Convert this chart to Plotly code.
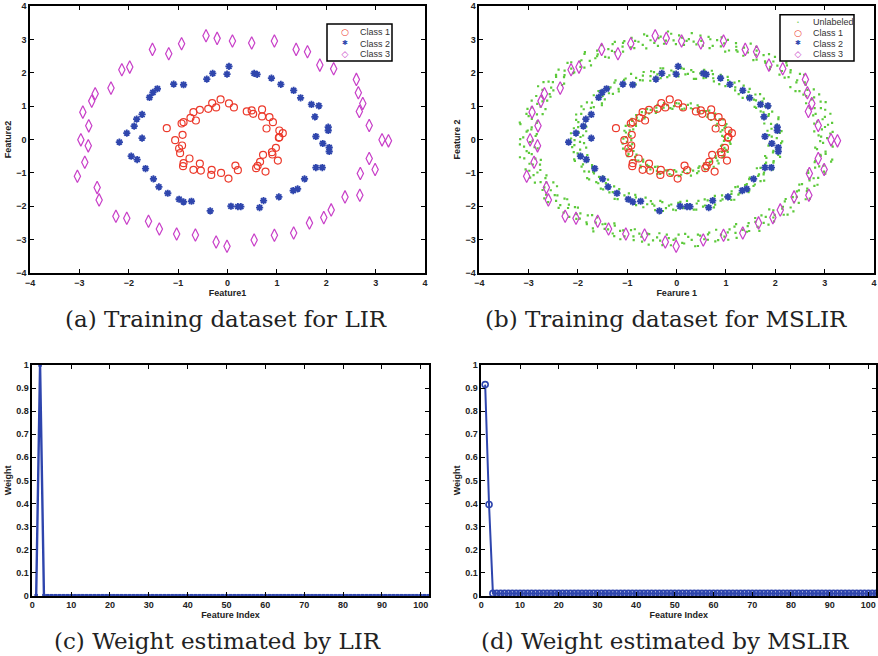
import numpy as np
import plotly.graph_objects as go

# ---------------- data ----------------
class1_x = [-0.14, -0.31, -0.23, -0.39, -0.56, -0.69, -0.64, -0.75, -0.89, -0.93, -1.23, -0.91, -1.06, -0.92, -0.98,
            -0.96, -0.77, -0.89, -0.90, -0.56, -0.69, -0.54, -0.32, -0.33, -0.13, 0.02, 0.16, 0.21, 0.58, 0.61,
            0.66, 0.77, 0.72, 0.90, 0.91, 0.98, 1.02, 1.04, 1.05, 1.12, 1.05, 0.79, 0.92, 0.85, 0.70, 0.70,
            0.52, 0.49, 0.39, 0.13, 0.03]
class1_y = [1.20, 1.09, 0.96, 0.92, 0.89, 0.82, 0.57, 0.65, 0.52, 0.48, 0.34, 0.14, -0.02, -0.18, -0.27,
            -0.41, -0.57, -0.71, -0.80, -0.72, -0.91, -0.93, -0.91, -1.06, -1.00, -1.17, -0.78, -0.92, -0.86, -0.79,
            -0.67, -0.96, -0.46, -0.38, -0.45, -0.25, -0.63, 0.05, 0.07, 0.19, 0.27, 0.33, 0.52, 0.67, 0.69, 0.90,
            0.77, 0.87, 0.84, 0.96, 1.08]

class2_x = [0.03, -0.30, -0.01, -0.42, 0.54, 0.60, 0.89, 1.08, 1.34, 1.48, 1.70, 1.85, 1.77, 2.04, 2.04, 1.79,
            1.93, 2.06, 2.06, 1.79, 1.92, 1.56, 1.42, 1.33, 1.04, 0.73, 0.65, 0.27, 0.21, 0.07, -0.35, -0.73,
            -0.89, -0.98, -1.21, -1.39, -1.50, -1.66, -1.83, -1.95, -2.19, -2.04, -1.73, -1.89, -1.84, -1.73,
            -1.58, -1.51, -1.42, -1.09, -0.89]
class2_y = [2.19, 1.98, 1.96, 1.81, 1.98, 1.95, 1.84, 1.65, 1.47, 1.25, 1.05, 1.01, 0.68, 0.37, 0.27, 0.09,
            -0.12, -0.24, -0.36, -0.84, -0.84, -1.18, -1.48, -1.53, -1.72, -1.83, -2.04, -2.01, -2.01, -2.00, -2.14, -1.85,
            -1.87, -1.79, -1.61, -1.42, -1.18, -0.87, -0.60, -0.50, -0.08, 0.19, 0.04, 0.40, 0.61, 0.75,
            1.26, 1.41, 1.52, 1.66, 1.64]

class3_x = [-0.435, -0.21, 0.10, 0.49, 0.95, -0.93, -1.52, -1.19, -1.98, -2.14, -2.36, -2.68, -2.75, -2.93, -2.81,
            -2.97, -2.82, -2.89, -3.04, -2.64, -2.60, -2.26, -2.04, -1.60, -1.38, -1.03, -0.65, -0.23, -0.01, 0.54,
            0.95, 1.34, 1.66, 1.95, 2.10, 2.38, 2.68, 2.99, 2.69, 2.87, 3.13, 3.26, 2.87, 2.67, 2.74, 2.65, 2.61,
            2.15, 1.87, 1.62, 1.39]
class3_y = [3.11, 3.03, 2.95, 2.89, 2.95, 2.87, 2.70, 2.57, 2.17, 2.09, 1.54, 1.37, 1.15, 0.82, 0.41,
            -0.01, -0.19, -0.68, -1.10, -1.44, -1.81, -2.30, -2.36, -2.45, -2.68, -2.83, -2.86, -3.07, -3.20, -3.01,
            -2.87, -2.80, -2.50, -2.34, -2.11, -1.72, -1.67, -0.90, -1.02, -0.57, -0.01, -0.04, 0.42, 0.84, 1.08, 1.40, 1.80,
            2.12, 2.23, 2.63, 2.70]

# unlabeled points read as (angle in degrees, radius) around the three rings
unl_outer = [(0.8,3.05),(2.5,2.88),(4.1,3.17),(5.9,2.96),(8.2,3.10),(9.7,2.83),(11.6,3.02),(13.9,3.21),(15.3,2.92),(17.8,3.07),
(19.4,2.86),(21.2,3.13),(23.7,2.99),(25.1,3.19),(27.6,2.90),(29.3,3.04),(31.0,2.81),(33.4,3.11),(35.2,2.97),(36.9,3.23),
(39.5,2.94),(41.1,3.06),(43.0,2.85),(44.8,3.15),(47.3,3.01),(48.9,2.89),(51.2,3.18),(52.6,2.95),(55.1,3.08),(56.8,2.84),
(58.7,3.12),(61.0,2.98),(62.4,3.24),(64.9,2.91),(66.5,3.03),(68.3,2.87),(70.8,3.16),(72.2,2.93),(74.6,3.09),(76.3,2.82),
(78.1,3.14),(80.4,3.00),(82.0,2.88),(84.5,3.20),(86.1,2.96),(87.9,3.05),(90.3,2.86),(92.0,3.17),(94.2,2.97),(96.0,3.10),
(97.7,2.83),(100.1,3.02),(101.8,3.22),(103.6,2.92),(105.9,3.07),(107.4,2.87),(109.8,3.13),(111.5,2.99),(113.2,3.18),(115.6,2.90),
(117.1,3.04),(119.3,2.81),(121.2,3.11),(122.9,2.97),(125.4,3.21),(126.8,2.94),(129.1,3.06),(131.0,2.85),(132.7,3.15),(135.2,3.01),
(136.6,2.89),(138.8,3.18),(140.7,2.95),(142.5,3.08),(144.9,2.84),(146.3,3.12),(148.6,2.98),(150.4,3.23),(152.2,2.91),(154.7,3.03),
(156.1,2.87),(158.4,3.16),(160.3,2.93),(161.9,3.09),(164.4,2.82),(165.8,3.14),(168.1,3.00),(170.0,2.88),(171.7,3.20),(174.2,2.96),
(175.6,3.05),(177.9,2.86),(179.8,3.17),(181.5,2.97),(183.9,3.10),(185.4,2.83),(187.6,3.02),(189.5,3.22),(191.3,2.92),(193.7,3.07),
(195.2,2.87),(197.4,3.13),(199.3,2.99),(201.0,3.18),(203.5,2.90),(204.9,3.04),(207.2,2.81),(209.1,3.11),(210.8,2.97),(213.3,3.21),
(214.7,2.94),(217.0,3.06),(218.9,2.85),(220.6,3.15),(223.0,3.01),(224.5,2.89),(226.8,3.18),(228.6,2.95),(230.4,3.08),(232.9,2.84),
(234.3,3.12),(236.6,2.98),(238.5,3.23),(240.2,2.91),(242.7,3.03),(244.1,2.87),(246.4,3.16),(248.3,2.93),(250.0,3.09),(252.5,2.82),
(253.9,3.14),(256.2,3.00),(258.1,2.88),(259.8,3.20),(262.3,2.96),(263.7,3.05),(266.0,2.86),(267.9,3.17),(269.6,2.97),(272.1,3.10),
(273.5,2.83),(275.8,3.02),(277.7,3.22),(279.4,2.92),(281.9,3.07),(283.3,2.87),(285.6,3.13),(287.5,2.99),(289.2,3.18),(291.7,2.90),
(293.1,3.04),(295.4,2.81),(297.3,3.11),(299.0,2.97),(301.5,3.21),(302.9,2.94),(305.2,3.06),(307.1,2.85),(308.8,3.15),(311.3,3.01),
(312.7,2.89),(315.0,3.18),(316.9,2.95),(318.6,3.08),(321.1,2.84),(322.5,3.12),(324.8,2.98),(326.7,3.23),(328.4,2.91),(330.9,3.03),
(332.3,2.87),(334.6,3.16),(336.5,2.93),(338.2,3.09),(340.7,2.82),(342.1,3.14),(344.4,3.00),(346.3,2.88),(348.0,3.20),(350.5,2.96),
(351.9,3.05),(354.2,2.86),(356.1,3.17),(358.0,2.97),
(1.7,2.93),(3.3,3.12),(5.0,2.80),(7.1,3.03),(9.0,3.19),(10.6,2.90),(12.7,3.08),(14.6,2.86),(16.5,3.14),(18.6,2.95),
(20.3,3.22),(22.5,2.84),(24.4,3.06),(26.3,2.93),(28.4,3.16),(30.2,2.88),(32.1,3.09),(34.3,2.79),(36.0,3.02),(38.2,3.18),
(40.3,2.87),(42.0,3.11),(43.9,2.96),(46.0,3.20),(48.1,2.83),(50.0,3.05),(51.9,2.92),(53.8,3.17),(55.9,2.89),(57.7,3.00),
(59.8,3.21),(61.7,2.85),(63.6,3.07),(65.7,2.94),(67.4,3.13),(69.5,2.81),(71.5,3.04),(73.4,3.19),(75.4,2.90),(77.2,3.08),
(79.3,2.86),(81.2,3.15),(83.3,2.95),(85.3,3.02),(87.0,2.84),(89.1,3.12),(91.2,2.97),(93.1,3.24),(95.1,2.88),(96.9,3.06),
(98.9,2.93),(100.9,3.16),(102.7,2.80),(104.8,3.03),(106.7,3.18),(108.6,2.91),(110.6,3.09),(112.4,2.85),(114.4,3.14),(116.3,2.96),
(118.2,3.21),(120.3,2.87),(122.1,3.01),(124.1,2.94),(126.1,3.17),(128.0,2.82),(130.0,3.05),(131.9,2.92),(133.9,3.19),(135.9,2.89),
(137.7,3.07),(139.7,2.98),(141.6,3.12),(143.7,2.83),(145.6,3.04),(147.5,3.20),(149.5,2.90),(151.3,3.10),(153.4,2.86),(155.4,3.13),
(157.2,2.95),(159.3,3.02),(161.1,2.81),(163.1,3.16),(165.1,2.93),(166.9,3.08),(169.0,2.87),(170.9,3.22),(172.9,2.96),(174.9,3.03),
(176.7,2.84),(178.8,3.11),(180.7,2.92),(182.6,3.18),(184.6,2.89),(186.5,3.06),(188.5,2.97),(190.4,3.14),(192.5,2.82),(194.4,3.01),
(196.3,3.19),(198.3,2.91),(200.2,3.09),(202.2,2.85),(204.2,3.15),(206.0,2.94),(208.1,3.04),(210.0,2.80),(212.0,3.12),(214.0,2.98),
(215.8,3.21),(217.9,2.88),(219.8,3.07),(221.8,2.93),(223.7,3.17),(225.6,2.86),(227.7,3.02),(229.5,3.13),(231.6,2.90),(233.6,3.08),
(235.4,2.84),(237.5,3.16),(239.4,2.95),(241.4,3.05),(243.3,2.81),(245.3,3.10),(247.3,2.97),(249.1,3.20),(251.2,2.87),(253.2,3.03),
(255.0,2.92),(257.1,3.14),(258.9,2.89),(261.0,3.06),(262.9,2.83),(264.8,3.18),(266.9,2.96),(268.8,3.01),(270.8,2.85),(272.8,3.12),
(274.6,2.93),(276.7,3.22),(278.6,2.88),(280.6,3.04),(282.6,2.91),(284.4,3.15),(286.5,2.82),(288.4,3.07),(290.4,2.97),(292.4,3.19),
(294.2,2.86),(296.3,3.02),(298.2,3.11),(300.2,2.90),(302.1,3.09),(304.1,2.84),(306.1,3.16),(307.9,2.94),(310.0,3.05),(311.9,2.81),
(313.9,3.13),(315.9,2.98),(317.7,3.20),(319.8,2.87),(321.7,3.03),(323.7,2.92),(325.6,3.17),(327.5,2.89),(329.6,3.06),(331.5,2.83),
(333.5,3.12),(335.5,2.96),(337.3,3.01),(339.4,2.85),(341.3,3.18),(343.3,2.93),(345.2,3.08),(347.2,2.88),(349.2,3.21),(351.0,2.95),
(353.1,3.04),(355.0,2.82),(357.0,3.14),(359.1,2.91)]

unl_middle = [(1.2,2.03),(4.0,1.88),(6.7,2.14),(9.5,1.95),(12.4,2.08),(15.1,1.84),(17.9,2.17),(20.8,1.99),(23.4,2.11),(26.3,1.90),
(29.0,2.05),(31.8,1.86),(34.7,2.15),(37.3,1.97),(40.2,2.09),(43.0,1.83),(45.7,2.12),(48.6,2.00),(51.2,1.89),(54.1,2.16),
(56.9,1.94),(59.6,2.06),(62.5,1.87),(65.2,2.13),(68.0,1.98),(70.9,2.18),(73.5,1.92),(76.4,2.04),(79.1,1.85),(81.9,2.10),
(84.8,1.96),(87.4,2.14),(90.3,1.91),(93.0,2.07),(95.8,1.88),(98.7,2.16),(101.3,1.99),(104.2,2.11),(106.9,1.84),(109.7,2.03),
(112.6,1.93),(115.2,2.17),(118.1,1.90),(120.8,2.08),(123.6,1.97),(126.5,2.12),(129.1,1.86),(132.0,2.05),(134.7,1.95),(137.5,2.15),
(140.4,1.89),(143.0,2.02),(145.9,1.83),(148.6,2.13),(151.4,1.98),(154.3,2.09),(156.9,1.92),(159.8,2.17),(162.5,1.94),(165.3,2.06),
(168.2,1.87),(170.8,2.11),(173.7,2.00),(176.4,1.90),(179.2,2.14),(182.1,1.96),(184.7,2.08),(187.6,1.85),(190.3,2.12),(193.1,1.99),
(196.0,2.16),(198.6,1.91),(201.5,2.04),(204.2,1.88),(207.0,2.10),(209.9,1.95),(212.5,2.15),(215.4,1.93),(218.1,2.07),(220.9,1.84),
(223.8,2.13),(226.4,1.97),(229.3,2.09),(232.0,1.89),(234.8,2.18),(237.7,1.98),(240.3,2.05),(243.2,1.86),(245.9,2.11),(248.7,1.94),
(251.6,2.14),(254.2,1.92),(257.1,2.03),(259.8,1.87),(262.6,2.16),(265.5,1.99),(268.1,2.10),(271.0,1.90),(273.7,2.06),(276.5,1.85),
(279.4,2.13),(282.0,1.96),(284.9,2.08),(287.6,1.88),(290.4,2.17),(293.3,1.93),(295.9,2.04),(298.8,1.91),(301.5,2.12),(304.3,1.97),
(307.2,2.07),(309.8,1.86),(312.7,2.15),(315.4,1.95),(318.2,2.09),(321.1,1.89),(323.7,2.11),(326.6,1.98),(329.3,2.05),(332.1,1.84),
(335.0,2.14),(337.6,1.94),(340.5,2.08),(343.2,1.90),(346.0,2.16),(348.9,1.99),(351.5,2.06),(354.4,1.87),(357.1,2.12),
(2.6,1.93),(5.4,2.10),(8.1,1.86),(11.0,2.06),(13.8,1.97),(16.5,2.15),(19.3,1.89),(22.2,2.02),(24.9,1.94),(27.7,2.13),
(30.5,1.87),(33.3,2.08),(36.1,1.99),(38.8,2.17),(41.6,1.91),(44.4,2.04),(47.2,1.85),(49.9,2.11),(52.7,1.96),(55.5,2.07),
(58.3,1.88),(61.1,2.14),(63.9,2.00),(66.6,1.90),(69.4,2.09),(72.2,1.95),(75.0,2.16),(77.8,1.86),(80.5,2.05),(83.4,1.98),
(86.1,2.12),(88.9,1.89),(91.7,2.03),(94.4,1.93),(97.3,2.15),(100.0,1.87),(102.8,2.07),(105.6,1.97),(108.3,2.13),(111.2,1.90),
(114.0,2.02),(116.7,1.85),(119.5,2.10),(122.3,1.96),(125.0,2.16),(127.8,1.92),(130.6,2.06),(133.4,1.88),(136.1,2.11),(138.9,1.99),
(141.7,2.14),(144.5,1.86),(147.3,2.04),(150.0,1.94),(152.8,2.17),(155.6,1.89),(158.4,2.08),(161.2,1.97),(163.9,2.12),(166.7,1.91),
(169.5,2.03),(172.3,1.85),(175.0,2.15),(177.8,1.95),(180.6,2.07),(183.4,1.88),(186.2,2.13),(188.9,1.98),(191.7,2.05),(194.5,1.87),
(197.3,2.16),(200.1,1.93),(202.8,2.09),(205.6,1.90),(208.4,2.02),(211.2,1.96),(214.0,2.14),(216.7,1.86),(219.5,2.06),(222.3,1.94),
(225.1,2.11),(227.9,1.89),(230.6,2.04),(233.4,1.97),(236.2,2.15),(239.0,1.88),(241.8,2.08),(244.5,1.92),(247.3,2.13),(250.1,1.85),
(252.9,2.03),(255.7,1.99),(258.4,2.16),(261.2,1.90),(264.0,2.07),(266.8,1.95),(269.6,2.12),(272.3,1.87),(275.1,2.04),(277.9,1.96),
(280.7,2.14),(283.5,1.89),(286.2,2.06),(289.0,1.93),(291.8,2.10),(294.6,1.86),(297.4,2.02),(300.1,1.98),(302.9,2.15),(305.7,1.91),
(308.5,2.05),(311.3,1.88),(314.0,2.12),(316.8,1.95),(319.6,2.08),(322.4,1.87),(325.2,2.16),(327.9,1.97),(330.7,2.03),(333.5,1.90),
(336.3,2.13),(339.1,1.94),(341.8,2.07),(344.6,1.86),(347.4,2.11),(350.2,1.99),(353.0,2.04),(355.7,1.89),(358.5,2.14)]

unl_inner = [(2.1,1.04),(6.8,0.93),(12.3,1.10),(16.9,0.97),(22.4,1.07),(27.0,0.90),(32.5,1.12),(37.2,0.99),(42.6,1.05),(47.3,0.92),
(52.7,1.09),(57.4,1.01),(62.8,0.94),(67.5,1.11),(72.9,0.98),(77.6,1.06),(83.0,0.91),(87.7,1.08),(93.1,1.00),(97.8,0.95),
(103.2,1.12),(107.9,0.97),(113.3,1.04),(118.0,0.90),(123.4,1.09),(128.1,1.02),(133.5,0.93),(138.2,1.10),(143.6,0.96),(148.3,1.06),
(153.7,0.92),(158.4,1.11),(163.8,0.99),(168.5,1.05),(173.9,0.94),(178.6,1.08),(184.0,1.01),(188.7,0.91),(194.1,1.12),(198.8,0.97),
(204.2,1.07),(208.9,0.93),(214.3,1.09),(219.0,1.00),(224.4,0.95),(229.1,1.11),(234.5,0.98),(239.2,1.04),(244.6,0.90),(249.3,1.10),
(254.7,1.02),(259.4,0.94),(264.8,1.08),(269.5,0.96),(274.9,1.06),(279.6,0.92),(285.0,1.12),(289.7,0.99),(295.1,1.05),(299.8,0.93),
(305.2,1.09),(309.9,1.01),(315.3,0.95),(320.0,1.11),(325.4,0.97),(330.1,1.07),(335.5,0.91),(340.2,1.10),(345.6,1.00),(350.3,0.94),
(355.7,1.08),(358.9,0.98),
(4.5,0.96),(9.6,1.08),(14.6,0.92),(19.7,1.03),(24.7,1.11),(29.8,0.95),(34.8,1.06),(39.9,0.91),(44.9,1.10),(50.0,0.98),
(55.0,1.04),(60.1,0.93),(65.1,1.07),(70.2,0.97),(75.2,1.12),(80.3,0.94),(85.3,1.02),(90.4,1.09),(95.4,0.92),(100.5,1.05),
(105.5,0.99),(110.6,1.11),(115.6,0.94),(120.7,1.03),(125.7,0.96),(130.8,1.08),(135.8,0.91),(140.9,1.04),(145.9,1.10),(151.0,0.95),
(156.0,1.06),(161.1,0.93),(166.1,1.09),(171.2,0.98),(176.2,1.03),(181.3,0.92),(186.3,1.10),(191.4,0.96),(196.4,1.05),(201.5,0.94),
(206.5,1.11),(211.6,0.99),(216.6,1.04),(221.7,0.91),(226.7,1.07),(231.8,0.97),(236.8,1.12),(241.9,0.93),(246.9,1.02),(252.0,1.08),
(257.0,0.95),(262.1,1.05),(267.1,0.92),(272.2,1.10),(277.2,0.98),(282.3,1.03),(287.3,0.94),(292.4,1.09),(297.4,0.96),(302.5,1.06),
(307.5,0.91),(312.6,1.11),(317.6,0.97),(322.7,1.04),(327.7,0.93),(332.8,1.08),(337.8,0.99),(342.9,1.05),(347.9,0.92),(353.0,1.10),
(357.5,0.96)]

feature_index = [1, 2, 3, 4, 5, 6, 7, 8, 9, 10, 11, 12, 13, 14, 15, 16, 17, 18, 19, 20, 21, 22, 23, 24, 25, 26, 27, 28, 29, 30,
                 31, 32, 33, 34, 35, 36, 37, 38, 39, 40, 41, 42, 43, 44, 45, 46, 47, 48, 49, 50, 51, 52, 53, 54, 55, 56, 57, 58, 59, 60,
                 61, 62, 63, 64, 65, 66, 67, 68, 69, 70, 71, 72, 73, 74, 75, 76, 77, 78, 79, 80, 81, 82, 83, 84, 85, 86, 87, 88, 89, 90,
                 91, 92, 93, 94, 95, 96, 97, 98, 99, 100, 101, 102]
weight_lir = [0, 1, 0, 0, 0, 0, 0, 0, 0, 0, 0, 0, 0, 0, 0, 0, 0, 0, 0, 0, 0, 0, 0, 0, 0, 0, 0, 0, 0, 0,
              0, 0, 0, 0, 0, 0, 0, 0, 0, 0, 0, 0, 0, 0, 0, 0, 0, 0, 0, 0, 0, 0, 0, 0, 0, 0, 0, 0, 0, 0,
              0, 0, 0, 0, 0, 0, 0, 0, 0, 0, 0, 0, 0, 0, 0, 0, 0, 0, 0, 0, 0, 0, 0, 0, 0, 0, 0, 0, 0, 0,
              0, 0, 0, 0, 0, 0, 0, 0, 0, 0, 0, 0]
weight_mslir = [0.915, 0.395, 0.01, 0.01, 0.01, 0.01, 0.01, 0.01, 0.01, 0.01, 0.01, 0.01, 0.01, 0.01, 0.01, 0.01, 0.01, 0.01, 0.01, 0.01,
                0.01, 0.01, 0.01, 0.01, 0.01, 0.01, 0.01, 0.01, 0.01, 0.01, 0.01, 0.01, 0.01, 0.01, 0.01, 0.01, 0.01, 0.01, 0.01, 0.01,
                0.01, 0.01, 0.01, 0.01, 0.01, 0.01, 0.01, 0.01, 0.01, 0.01, 0.01, 0.01, 0.01, 0.01, 0.01, 0.01, 0.01, 0.01, 0.01, 0.01,
                0.01, 0.01, 0.01, 0.01, 0.01, 0.01, 0.01, 0.01, 0.01, 0.01, 0.01, 0.01, 0.01, 0.01, 0.01, 0.01, 0.01, 0.01, 0.01, 0.01,
                0.01, 0.01, 0.01, 0.01, 0.01, 0.01, 0.01, 0.01, 0.01, 0.01, 0.01, 0.01, 0.01, 0.01, 0.01, 0.01, 0.01, 0.01, 0.01, 0.01,
                0.01, 0.01]

captions = ["(a) Training dataset for LIR", "(b) Training dataset for MSLIR",
            "(c) Weight estimated by LIR", "(d) Weight estimated by MSLIR"]

# ---------------- styling ----------------
W, H = 878, 656
RED, BLUE, MAG, GREEN = "#ec3a2c", "#2f46ad", "#c83fc8", "#5cc93a"
LINE_BLUE = "#2e45ad"

def px(v):
    return v / W

def py(v):
    return 1 - v / H

unl = unl_outer + unl_middle + unl_inner
unl_ang = np.radians([a for a, r in unl])
unl_rad = np.array([r for a, r in unl])
unl_x = unl_rad * np.cos(unl_ang)
unl_y = unl_rad * np.sin(unl_ang)

fig = go.Figure()

def labeled(xa, ya):
    fig.add_trace(go.Scatter(x=class1_x, y=class1_y, mode="markers", name="Class 1", xaxis=xa, yaxis=ya,
                             marker=dict(symbol="circle-open", size=7, color=RED, line=dict(width=1.2))))
    fig.add_trace(go.Scatter(x=class2_x, y=class2_y, mode="markers", name="Class 2", xaxis=xa, yaxis=ya,
                             marker=dict(symbol="asterisk-open", size=6, color=BLUE, line=dict(width=1.8, color=BLUE))))
    fig.add_trace(go.Scatter(x=class3_x, y=class3_y, mode="markers", name="Class 3", xaxis=xa, yaxis=ya,
                             marker=dict(symbol="diamond-tall-open", size=9, color=MAG, line=dict(width=1.2))))

labeled("x", "y")
fig.add_trace(go.Scatter(x=unl_x, y=unl_y, mode="markers", name="Unlabeled", xaxis="x2", yaxis="y2",
                         marker=dict(symbol="square", size=2.2, color=GREEN, line=dict(width=0))))
labeled("x2", "y2")

fig.add_trace(go.Scatter(x=feature_index, y=weight_lir, mode="lines+markers", name="LIR weight", xaxis="x3", yaxis="y3",
                         line=dict(color=LINE_BLUE, width=2.4), marker=dict(symbol="square", size=3.5, color=LINE_BLUE),
                         cliponaxis=False))
fig.add_trace(go.Scatter(x=feature_index, y=weight_mslir, mode="lines+markers", name="MSLIR weight", xaxis="x4", yaxis="y4",
                         line=dict(color=LINE_BLUE, width=2), marker=dict(symbol="circle-open", size=6, color=LINE_BLUE,
                                                                          line=dict(width=1.6)),
                         cliponaxis=False))

tickfont = dict(family="Liberation Sans, Arial, sans-serif", size=9, color="#222", weight="bold")
titlefont = dict(family="Liberation Sans, Arial, sans-serif", size=9, color="#222", weight="bold")

def axis(domain, rng, dtick, title, anchor, standoff):
    return dict(domain=domain, range=rng, dtick=dtick, tick0=0, anchor=anchor,
                showline=True, linecolor="black", linewidth=1.6, mirror="allticks",
                ticks="inside", ticklen=4, tickwidth=1, tickcolor="black",
                showgrid=False, zeroline=False, tickfont=tickfont, automargin=False,
                title=dict(text=title, font=titlefont, standoff=standoff))

ya_dom = [py(273), py(6)]
yb_dom = [py(595.7), py(365)]
fig.update_layout(
    width=W, height=H, margin=dict(l=0, r=0, t=0, b=0),
    paper_bgcolor="white", plot_bgcolor="white", showlegend=False,
    xaxis=axis([px(30), px(425)], [-4, 4], 1, "Feature1", "y", 2),
    yaxis=axis(ya_dom, [-4, 4], 1, "Feature2", "x", 3),
    xaxis2=axis([px(479.3), px(874)], [-4, 4], 1, "Fearure 1", "y2", 2),
    yaxis2=axis(ya_dom, [-4, 4], 1, "Feature 2", "x2", 3),
    xaxis3=axis([px(32.3), px(428.5)], [0, 102], 10, "Feature Index", "y3", 2),
    yaxis3=axis(yb_dom, [0, 1], 0.1, "Weight", "x3", 3),
    xaxis4=axis([px(481.3), px(876.1)], [0, 102], 10, "Feature Index", "y4", 2),
    yaxis4=axis(yb_dom, [0, 1], 0.1, "Weight", "x4", 3),
)

# captions
cap_pos = [(226, 319), (666, 319), (217, 641), (665, 641)]
for text, (cx, cy) in zip(captions, cap_pos):
    fig.add_annotation(text=text, x=px(cx), y=py(cy), xref="paper", yref="paper", showarrow=False,
                       xanchor="center", yanchor="middle",
                       font=dict(family="DejaVu Serif, serif", size=23, color="#222"))

# legends (box + glyph + label)
def legend(box, glyph_x, text_x, rows):
    x0, y0, x1, y1 = box
    fig.add_shape(type="rect", xref="paper", yref="paper", x0=px(x0), x1=px(x1), y0=py(y1), y1=py(y0),
                  line=dict(color="black", width=1.5), fillcolor="white", layer="above")
    for glyph, color, gsize, label, ry in rows:
        fig.add_annotation(text=glyph, x=px(glyph_x), y=py(ry), xref="paper", yref="paper", showarrow=False,
                           xanchor="center", yanchor="middle", height=8, width=8, borderpad=0,
                           font=dict(family="DejaVu Sans", size=gsize, color=color))
        fig.add_annotation(text=label, x=px(text_x), y=py(ry), xref="paper", yref="paper", showarrow=False,
                           xanchor="left", yanchor="middle", height=9, borderpad=0,
                           font=dict(family="Liberation Sans, Arial, sans-serif", size=9, color="#333"))

legend((327, 24, 392, 61), 345, 359,
       [("○", RED, 9, "Class 1", 31.7), ("✱", BLUE, 7, "Class 2", 43), ("◇", MAG, 9, "Class 3", 54)])
legend((780, 14.7, 854, 61), 798, 812,
       [("•", GREEN, 5, "Unlabeled", 21.8), ("○", RED, 9, "Class 1", 32.5), ("✱", BLUE, 7, "Class 2", 43),
        ("◇", MAG, 9, "Class 3", 54)])

fig.write_html("out.html", config={"displayModeBar": False},
               post_script="document.body.style.margin='0';document.body.style.overflow='hidden';")
